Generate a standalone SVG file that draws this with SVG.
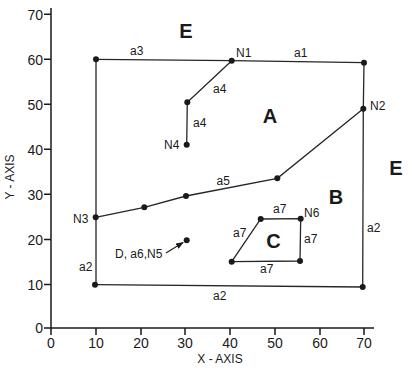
<svg xmlns="http://www.w3.org/2000/svg" width="412" height="371" viewBox="0 0 412 371">
<style>
.ax{stroke:#1a1a1a;stroke-width:1.5;fill:none}
.ln{stroke:#262626;stroke-width:1.3;fill:none}
.lg{stroke:#6a6a6a;stroke-width:1.3;fill:none}
.dot{fill:#1a1a1a}
text{font-family:"Liberation Sans",Arial,sans-serif;fill:#1a1a1a}
.tk{font-size:14px}
.lb{font-size:12px}
.big{font-size:20px;font-weight:bold}
</style>
<defs>
<marker id="ah" markerWidth="8" markerHeight="6" refX="7" refY="3" orient="auto" markerUnits="userSpaceOnUse">
<path d="M0,0 L8,3 L0,6 Z" fill="#1a1a1a"/>
</marker>
</defs>
<rect width="412" height="371" fill="#fff"/>
<g id="axes">
<path class="ax" d="M51,8 V328 H374"/>
<path class="ax" d="M44,14.3 H51 M44,59.3 H51 M44,104.3 H51 M44,149.3 H51 M44,194.3 H51 M44,239.5 H51 M44,284.5 H51 M44,328 H51"/>
<path class="ax" d="M51,328 V335 M96,328 V335 M141,328 V335 M185,328 V335 M230,328 V335 M275,328 V335 M320,328 V335 M364,328 V335"/>
<g class="tk" text-anchor="end">
<text x="43" y="19.5">70</text><text x="43" y="64.5">60</text><text x="43" y="109.5">50</text><text x="43" y="154.5">40</text>
<text x="43" y="199.5">30</text><text x="43" y="244.5">20</text><text x="43" y="289.5">10</text><text x="43" y="333">0</text>
</g>
<g class="tk" text-anchor="middle">
<text x="51" y="348">0</text><text x="96" y="348">10</text><text x="141" y="348">20</text><text x="185" y="348">30</text>
<text x="230" y="348">40</text><text x="275" y="348">50</text><text x="320" y="348">60</text><text x="364" y="348">70</text>
</g>
<text class="lb" x="220" y="363" text-anchor="middle">X - AXIS</text>
<text class="lb" transform="translate(14,177) rotate(-90)" text-anchor="middle">Y - AXIS</text>
</g>
<g id="connectors">
<path class="ln" d="M96,59.3 L231.7,60.7 L364,62.7"/>
<path class="ln" d="M364,62.7 L363.3,108.7 L362.7,287"/>
<path class="ln" d="M96,59.3 V285"/>
<path class="ln" d="M95,284.7 L362.7,287"/>
<path class="ln" d="M231.7,60.7 L187.3,102.3 L186.7,144.7"/>
<path class="ln" d="M95.7,217.3 L144.3,207.3 L186,196 L277.3,178.3 L363.3,108.7"/>
<path class="ln" d="M260.7,219 L300.7,218.7 L300,261 L231.7,261.7 Z"/>
<path class="ln" d="M166,253 L183,242.5" marker-end="url(#ah)"/>
</g>
<g id="N1"><circle class="dot" cx="231.7" cy="60.7" r="3"/><text class="lb" x="236" y="57">N1</text></g>
<g id="N2"><circle class="dot" cx="363.3" cy="108.7" r="3"/><text class="lb" x="370" y="110">N2</text></g>
<g id="N3"><circle class="dot" cx="95.7" cy="217.3" r="3"/><text class="lb" x="73" y="223">N3</text></g>
<g id="N4"><circle class="dot" cx="186.7" cy="144.7" r="3"/><text class="lb" x="164" y="149">N4</text></g>
<g id="N6"><circle class="dot" cx="300.7" cy="218.7" r="3"/><text class="lb" x="304" y="217">N6</text></g>
<g id="D"><circle class="dot" cx="186.7" cy="240.3" r="3"/><text class="lb" x="115" y="258">D, a6,N5</text></g>
<g id="corners">
<circle class="dot" cx="96" cy="59.3" r="3"/>
<circle class="dot" cx="364" cy="62.7" r="3"/>
<circle class="dot" cx="95" cy="284.7" r="3"/>
<circle class="dot" cx="362.7" cy="287" r="3"/>
<circle class="dot" cx="187.3" cy="102.3" r="3"/>
<circle class="dot" cx="144.3" cy="207.3" r="3"/>
<circle class="dot" cx="186" cy="196" r="3"/>
<circle class="dot" cx="277.3" cy="178.3" r="3"/>
<circle class="dot" cx="260.7" cy="219" r="3"/>
<circle class="dot" cx="300" cy="261" r="3"/>
<circle class="dot" cx="231.7" cy="261.7" r="3"/>
</g>
<g id="labels">
<text class="lb" x="130" y="55">a3</text>
<text class="lb" x="294" y="57">a1</text>
<text class="lb" x="213" y="93">a4</text>
<text class="lb" x="193" y="127">a4</text>
<text class="lb" x="216.5" y="185">a5</text>
<text class="lb" x="273" y="213.3">a7</text>
<text class="lb" x="304" y="243">a7</text>
<text class="lb" x="233" y="237">a7</text>
<text class="lb" x="260" y="273">a7</text>
<text class="lb" x="367" y="232">a2</text>
<text class="lb" x="79" y="271">a2</text>
<text class="lb" x="213" y="300">a2</text>
</g>
<g id="regions">
<text class="big" x="186" y="38" text-anchor="middle">E</text>
<text class="big" x="396" y="175" text-anchor="middle">E</text>
<text class="big" x="270" y="123" text-anchor="middle">A</text>
<text class="big" x="336" y="204" text-anchor="middle">B</text>
<text class="big" x="273.5" y="248" text-anchor="middle">C</text>
</g>
</svg>
